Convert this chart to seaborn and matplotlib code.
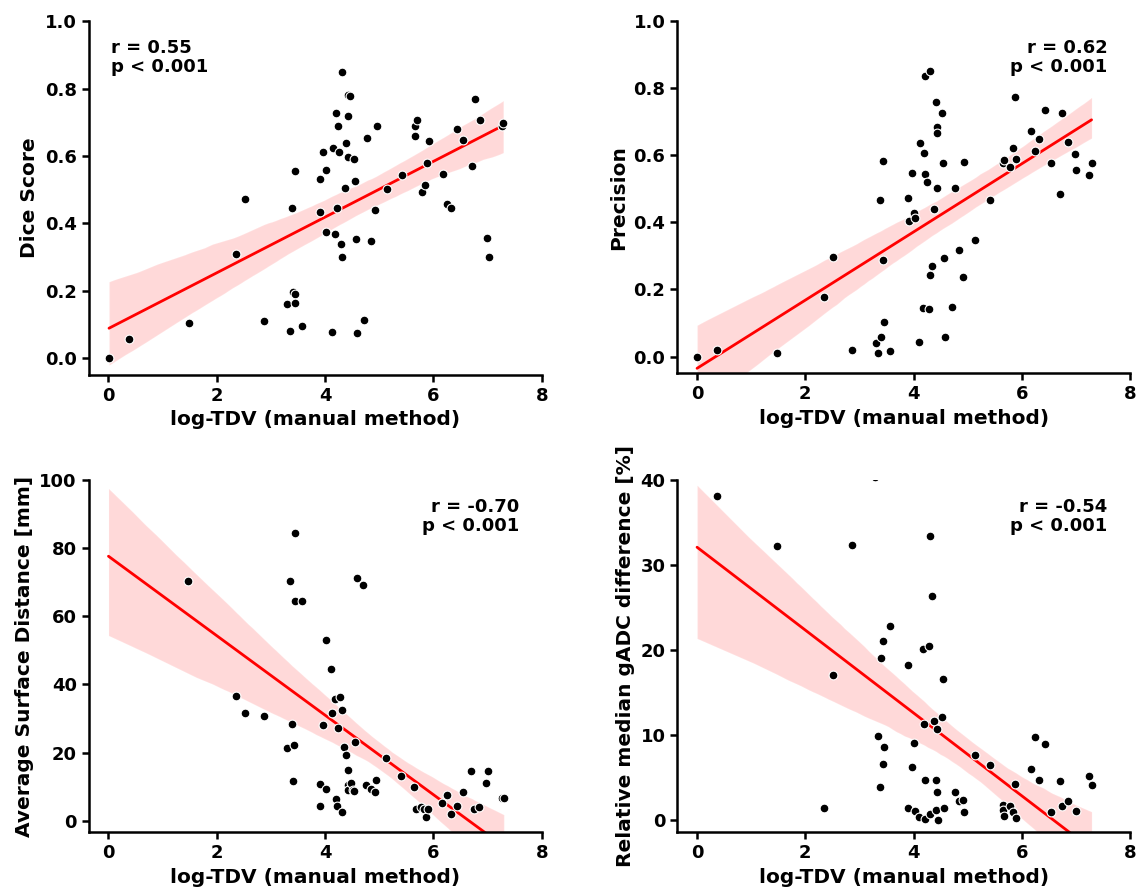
import matplotlib
matplotlib.use("Agg")
import matplotlib.pyplot as plt
import seaborn as sns

sns.set_style("ticks")
plt.rcParams['font.family'] = ['DejaVu Sans']
plt.rcParams['font.weight'] = 'bold'
plt.rcParams['axes.labelweight'] = 'bold'
plt.rcParams['font.size'] = 13
for key in ['text.color', 'axes.labelcolor', 'xtick.color', 'ytick.color', 'axes.edgecolor']:
    plt.rcParams[key] = 'black'

# ---- Dice score vs log-TDV ----
dice_x = [0.01, 0.375, 1.48, 2.36, 2.53, 2.88, 3.30, 3.36, 3.39, 3.41, 3.44, 3.44, 3.45, 3.58,
          3.90, 3.91, 3.97, 4.02, 4.02, 4.12, 4.14, 4.19, 4.21, 4.22, 4.23, 4.25, 4.29, 4.31,
          4.32, 4.36, 4.39, 4.42, 4.46, 4.43, 4.43, 4.53, 4.56, 4.57, 4.59, 4.71, 4.77, 4.85,
          4.93, 4.95, 5.14, 5.42, 5.66, 5.66, 5.69, 5.79, 5.84, 5.88, 5.91, 6.17, 6.26, 6.33,
          6.44, 6.55, 6.71, 6.77, 6.86, 6.99, 7.02, 7.27, 7.29]
dice_y = [0.0, 0.058, 0.105, 0.31, 0.472, 0.11, 0.16, 0.08, 0.445, 0.195, 0.19, 0.556, 0.165, 0.096,
          0.433, 0.532, 0.611, 0.56, 0.374, 0.077, 0.625, 0.368, 0.727, 0.447, 0.69, 0.613, 0.34, 0.849,
          0.30, 0.506, 0.64, 0.78, 0.777, 0.719, 0.596, 0.59, 0.526, 0.353, 0.074, 0.113, 0.655, 0.347,
          0.441, 0.689, 0.503, 0.545, 0.66, 0.69, 0.707, 0.493, 0.515, 0.579, 0.646, 0.547, 0.458, 0.446,
          0.68, 0.649, 0.569, 0.769, 0.706, 0.358, 0.299, 0.690, 0.698]

# ---- Precision vs log-TDV ----
prec_x = [0.0, 0.37, 1.48, 2.35, 2.52, 2.87, 3.30, 3.35, 3.38, 3.40, 3.43, 3.45, 3.44, 3.57,
          3.90, 3.91, 3.97, 4.01, 4.02, 4.11, 4.12, 4.17, 4.20, 4.22, 4.22, 4.24, 4.30, 4.28,
          4.31, 4.35, 4.38, 4.42, 4.43, 4.43, 4.43, 4.52, 4.55, 4.56, 4.58, 4.71, 4.76, 4.84,
          4.92, 4.94, 5.13, 5.42, 5.65, 5.68, 5.78, 5.83, 5.87, 5.90, 6.17, 6.25, 6.32, 6.43,
          6.54, 6.70, 6.75, 6.85, 6.98, 7.01, 7.25, 7.29]
prec_y = [0.0, 0.019, 0.012, 0.178, 0.296, 0.020, 0.041, 0.012, 0.468, 0.057, 0.582, 0.102, 0.289, 0.018,
          0.472, 0.405, 0.546, 0.429, 0.414, 0.043, 0.637, 0.144, 0.607, 0.545, 0.837, 0.520, 0.851, 0.142,
          0.243, 0.270, 0.440, 0.760, 0.686, 0.667, 0.502, 0.725, 0.577, 0.294, 0.057, 0.147, 0.504, 0.318,
          0.237, 0.579, 0.347, 0.466, 0.577, 0.587, 0.565, 0.622, 0.775, 0.590, 0.673, 0.612, 0.649, 0.734,
          0.576, 0.486, 0.726, 0.639, 0.605, 0.556, 0.542, 0.578]

# ---- Average surface distance vs log-TDV (first point lies above the axis range) ----
asd_x = [0.0, 1.47, 2.35, 2.52, 2.87, 3.29, 3.35, 3.38, 3.40, 3.43, 3.45, 3.45, 3.57, 3.90, 3.90,
         3.96, 4.01, 4.01, 4.11, 4.12, 4.18, 4.20, 4.22, 4.23, 4.28, 4.31, 4.31, 4.35, 4.38,
         4.43, 4.43, 4.42, 4.47, 4.52, 4.55, 4.54, 4.59, 4.70, 4.76, 4.84, 4.92, 4.94, 5.13,
         5.41, 5.65, 5.67, 5.78, 5.83, 5.87, 5.90, 6.16, 6.25, 6.32, 6.43, 6.55, 6.70, 6.75,
         6.85, 6.98, 7.01, 7.26, 7.30]
asd_y = [127.0, 70.4, 36.6, 31.6, 30.8, 21.4, 70.4, 28.3, 11.6, 22.3, 84.4, 64.6, 64.6, 10.7, 4.3,
         28.0, 52.9, 9.2, 44.5, 31.7, 35.8, 6.4, 4.4, 27.1, 36.2, 32.6, 2.7, 21.5, 19.3,
         15.0, 10.6, 8.9, 11.1, 9.0, 23.2, 8.6, 71.2, 69.2, 10.4, 9.3, 8.4, 12.0, 18.3,
         13.0, 9.8, 3.3, 4.0, 3.4, 1.2, 3.4, 5.2, 7.5, 2.1, 4.4, 8.4, 14.5, 3.4,
         4.0, 11.1, 14.7, 6.7, 6.8]

# ---- Relative median gADC difference vs log-TDV (first point lies above the axis range) ----
gadc_x = [0.0, 0.37, 1.48, 2.35, 2.52, 2.87, 3.29, 3.35, 3.38, 3.40, 3.43, 3.45, 3.44, 3.57, 3.90,
          3.90, 3.97, 4.01, 4.02, 4.11, 4.17, 4.20, 4.22, 4.22, 4.28, 4.31, 4.30, 4.35, 4.38,
          4.42, 4.42, 4.43, 4.43, 4.46, 4.52, 4.55, 4.56, 4.76, 4.84, 4.92, 4.94, 5.13, 5.42,
          5.65, 5.65, 5.68, 5.78, 5.83, 5.87, 5.90, 6.17, 6.25, 6.32, 6.43, 6.54, 6.70, 6.75,
          6.85, 7.00, 7.25, 7.29]
gadc_y = [47.0, 38.1, 32.2, 1.4, 17.0, 32.4, 40.4, 9.9, 3.9, 19.1, 6.6, 8.6, 21.0, 22.8, 18.2,
          1.4, 6.2, 9.1, 1.1, 0.3, 20.1, 11.3, 4.7, 0.1, 20.5, 33.4, 0.7, 26.3, 11.7,
          1.2, 4.7, 3.3, 10.7, 0.0, 12.1, 16.6, 1.4, 3.3, 2.2, 2.3, 0.9, 7.7, 6.5,
          1.8, 1.2, 0.5, 1.7, 0.9, 4.2, 0.2, 6.0, 9.8, 4.7, 8.9, 0.9, 4.6, 1.6,
          2.2, 1.0, 5.2, 4.1]

panels = [
    (dice_x, dice_y, "Dice Score", "r = 0.55\np < 0.001", "left",
     (-0.05, 1.0), [0.0, 0.2, 0.4, 0.6, 0.8, 1.0], "{:.1f}"),
    (prec_x, prec_y, "Precision", "r = 0.62\np < 0.001", "right",
     (-0.05, 1.0), [0.0, 0.2, 0.4, 0.6, 0.8, 1.0], "{:.1f}"),
    (asd_x, asd_y, "Average Surface Distance [mm]", "r = -0.70\np < 0.001", "right",
     (-3.4, 100), [0, 20, 40, 60, 80, 100], "{:.0f}"),
    (gadc_x, gadc_y, "Relative median gADC difference [%]", "r = -0.54\np < 0.001", "right",
     (-1.45, 40), [0, 10, 20, 30, 40], "{:.0f}"),
]

W, H = 1138, 888
fig = plt.figure(figsize=(W / 100, H / 100), dpi=100)
# axes boxes in pixels: left, top, right, bottom
boxes = [(88.7, 21.3, 541.7, 375), (677.3, 21.3, 1130, 373.3),
         (88.7, 480, 541.7, 832.3), (677.3, 480, 1130, 832.3)]

for (x, y, ylab, txt, side, ylim, yticks, fmt), (l, t, r, b) in zip(panels, boxes):
    ax = fig.add_axes([l / W, (H - b) / H, (r - l) / W, (b - t) / H])
    sns.regplot(x=x, y=y, ax=ax, ci=95, seed=0, color="black",
                scatter_kws={"s": 40, "color": "black", "edgecolor": "white",
                             "linewidths": 0.8, "alpha": 1, "zorder": 3},
                line_kws={"color": "red", "lw": 2})
    ax.set_xlim(-0.365, 8)
    ax.set_ylim(*ylim)
    ax.set_xticks([0, 2, 4, 6, 8])
    ax.set_yticks(yticks)
    ax.set_yticklabels([fmt.format(v) for v in yticks])
    ax.set_xlabel("log-TDV (manual method)", fontsize=14.5, fontweight="bold")
    ax.set_ylabel(ylab, fontsize=14.5, fontweight="bold")
    ax.tick_params(labelsize=13, width=1.8, length=5)
    for sp in ax.spines.values():
        sp.set_linewidth(1.8)
    sns.despine(ax=ax)
    if side == "left":
        ax.text(0.05, 0.95, txt, transform=ax.transAxes, ha="left", va="top",
                fontsize=13, fontweight="bold", linespacing=1.1)
    else:
        ax.text(0.95, 0.95, txt, transform=ax.transAxes, ha="right", va="top",
                fontsize=13, fontweight="bold", linespacing=1.1, multialignment="right")

fig.savefig("out.png", dpi=100)
